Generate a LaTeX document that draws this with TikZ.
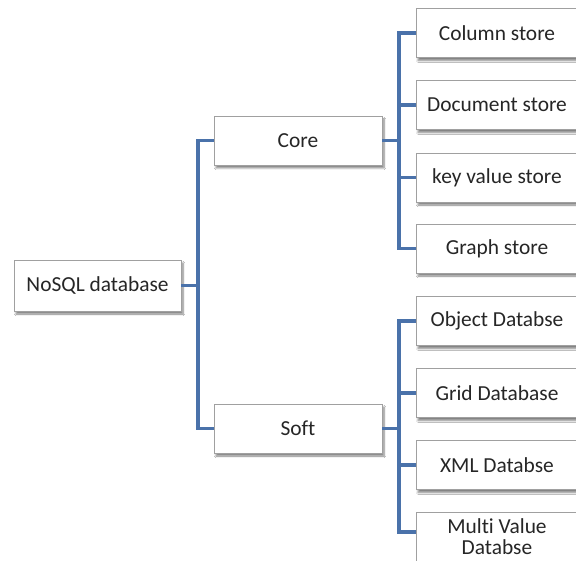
\documentclass[tikz,border=0pt]{standalone}
\usepackage{fontspec}
\setmainfont[Ligatures=NoCommon]{Carlito}
\usetikzlibrary{shadows.blur}
\definecolor{linkblue}{RGB}{74,114,170}
\definecolor{boxedge}{RGB}{160,160,160}
\tikzset{
  box/.style={draw=boxedge, line width=0.9pt, fill=white, rectangle,
    inner sep=0pt, align=center, text=black!85,
    font=\fontsize{21.4}{21}\selectfont,
    blur shadow={shadow xshift=2pt, shadow yshift=-3pt, shadow blur steps=6, shadow opacity=50}},
  rootbox/.style={box, minimum width=167pt, minimum height=51pt},
  midbox/.style={box, minimum width=168pt, minimum height=49pt},
  leafbox/.style={box, minimum width=162pt, minimum height=49pt},
  conn/.style={draw=linkblue, line width=3.6pt, line join=miter}
}
\begin{document}
\begin{tikzpicture}[x=1pt, y=-1pt]
  \path[use as bounding box] (0,0) rectangle (576,561);
  \clip (0,0) rectangle (576,561);
  \fill[white] (0,0) rectangle (576,561);

  % x positions of the two vertical buses
  \coordinate (b1) at (198,0);
  \coordinate (b2) at (399,0);
  % tap point on the last box, a little above its centre
  \coordinate (mvtap) at (416,532);

  % boxes
  \node[rootbox] (root) at (97.5,285.5) {NoSQL database};
  \node[midbox] (core) at (298,140.5) {Core};
  \node[midbox] (soft) at (298,428.5) {Soft};

  \node[leafbox] (cs) at (497,33)    {Column store};
  \node[leafbox] (ds) at (497,105)   {Document store};
  \node[leafbox] (kv) at (497,177.5) {key value store};
  \node[leafbox] (gs) at (497,248.5) {Graph store};

  \node[leafbox] (od) at (497,321)   {Object Databse};
  \node[leafbox] (gd) at (497,393)   {Grid Database};
  \node[leafbox] (xd) at (497,465)   {XML Databse};
  \node[leafbox, minimum height=50pt] (mv) at (497,537) {Multi Value\\Databse};

  % root to the two groups
  \draw[conn] (core.west) -- (core.west -| b1) -- (soft.west -| b1) -- (soft.west);
  \draw[conn] (root.east) -- (root.east -| b1);

  % Core group
  \draw[conn] (cs.west) -- (cs.west -| b2) -- (gs.west -| b2) -- (gs.west);
  \draw[conn] (ds.west) -- (ds.west -| b2);
  \draw[conn] (kv.west) -- (kv.west -| b2);
  \draw[conn] (core.east) -- (core.east -| b2);

  % Soft group
  \draw[conn] (od.west) -- (od.west -| b2) -- (mvtap -| b2) -- (mvtap);
  \draw[conn] (gd.west) -- (gd.west -| b2);
  \draw[conn] (xd.west) -- (xd.west -| b2);
  \draw[conn] (soft.east) -- (soft.east -| b2);
\end{tikzpicture}
\end{document}
